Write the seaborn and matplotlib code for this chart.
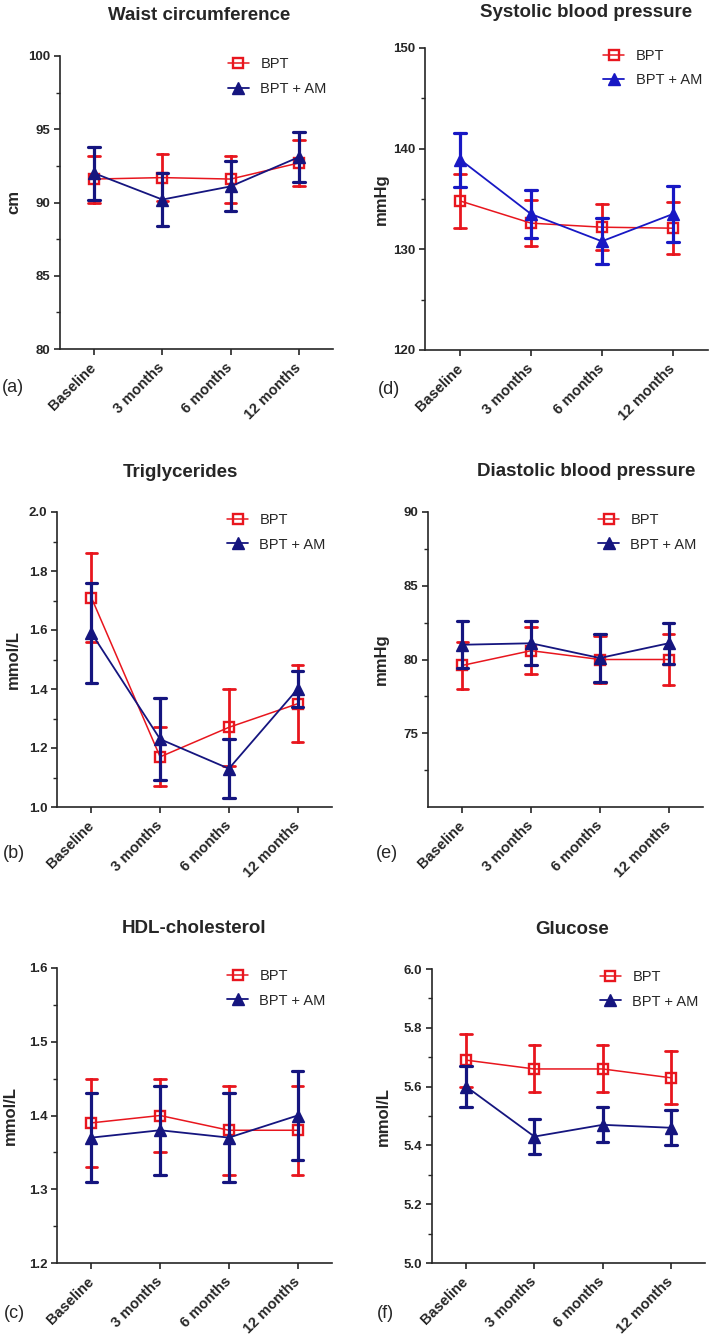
import pandas as pd
import matplotlib
matplotlib.use("Agg")
import matplotlib.pyplot as plt
import seaborn as sns
from matplotlib.lines import Line2D
from matplotlib.ticker import FormatStrFormatter

# time points and groups
timepoints = ["Baseline", "3 months", "6 months", "12 months"]
groups = ["BPT", "BPT + AM"]

# (a) waist circumference, cm (mean and error half-width)
waist_bpt = [91.6, 91.7, 91.6, 92.7]
waist_bpt_err = [1.6, 1.6, 1.6, 1.6]
waist_am = [92.0, 90.2, 91.1, 93.1]
waist_am_err = [1.8, 1.8, 1.7, 1.7]

# (b) triglycerides, mmol/L
tg_bpt = [1.71, 1.17, 1.27, 1.35]
tg_bpt_err = [0.15, 0.10, 0.13, 0.13]
tg_am = [1.59, 1.23, 1.13, 1.40]
tg_am_err = [0.17, 0.14, 0.10, 0.06]

# (c) HDL-cholesterol, mmol/L
hdl_bpt = [1.39, 1.40, 1.38, 1.38]
hdl_bpt_err = [0.06, 0.05, 0.06, 0.06]
hdl_am = [1.37, 1.38, 1.37, 1.40]
hdl_am_err = [0.06, 0.06, 0.06, 0.06]

# (d) systolic blood pressure, mmHg
sbp_bpt = [134.8, 132.6, 132.2, 132.1]
sbp_bpt_err = [2.7, 2.3, 2.3, 2.6]
sbp_am = [138.9, 133.5, 130.8, 133.5]
sbp_am_err = [2.7, 2.35, 2.3, 2.75]

# (e) diastolic blood pressure, mmHg
dbp_bpt = [79.6, 80.6, 80.0, 80.0]
dbp_bpt_err = [1.6, 1.6, 1.6, 1.7]
dbp_am = [81.0, 81.1, 80.1, 81.1]
dbp_am_err = [1.6, 1.5, 1.6, 1.4]

# (f) glucose, mmol/L
glu_bpt = [5.69, 5.66, 5.66, 5.63]
glu_bpt_err = [0.09, 0.08, 0.08, 0.09]
glu_am = [5.60, 5.43, 5.47, 5.46]
glu_am_err = [0.07, 0.06, 0.06, 0.06]

RED = "#E8161E"
NAVY = "#15157F"
BLUE = "#1818C4"

sns.set_style("ticks")
plt.rcParams["font.family"] = ["Liberation Sans", "DejaVu Sans"]
plt.rcParams["font.weight"] = "bold"
plt.rcParams["axes.linewidth"] = 1.2
plt.rcParams["xtick.labelsize"] = 10.5
plt.rcParams["ytick.labelsize"] = 9.5

W, H = 709, 1336
fig = plt.figure(figsize=(W / 100, H / 100), dpi=100)

# title, ylabel, letter, series, ylim, ticks, minor ticks, fmt,
# axes box in px (left, top, right, bottom), blue colour, title x, title pad,
# ylabel x, letter pos
panels = [
    ("Waist circumference", "cm", "(a)",
     (waist_bpt, waist_bpt_err, waist_am, waist_am_err),
     (80, 100), [80, 85, 90, 95, 100], [82.5, 87.5, 92.5, 97.5], "%d",
     (60, 56, 333, 349), NAVY, 0.51, 26, -0.143, (13, 388)),
    ("Triglycerides", "mmol/L", "(b)",
     (tg_bpt, tg_bpt_err, tg_am, tg_am_err),
     (1.0, 2.0), [1.0, 1.2, 1.4, 1.6, 1.8, 2.0], [1.1, 1.3, 1.5, 1.7, 1.9], "%.1f",
     (57, 512, 332, 807), NAVY, 0.45, 25, -0.131, (14, 853)),
    ("HDL-cholesterol", "mmol/L", "(c)",
     (hdl_bpt, hdl_bpt_err, hdl_am, hdl_am_err),
     (1.2, 1.6), [1.2, 1.3, 1.4, 1.5, 1.6], [1.25, 1.35, 1.45, 1.55], "%.1f",
     (57, 968, 332, 1263), NAVY, 0.50, 25, -0.142, (14, 1313)),
    ("Systolic blood pressure", "mmHg", "(d)",
     (sbp_bpt, sbp_bpt_err, sbp_am, sbp_am_err),
     (120, 150), [120, 130, 140, 150], [125, 135, 145], "%d",
     (425, 48, 708, 350), BLUE, 0.57, 22, -0.127, (389, 390)),
    ("Diastolic blood pressure", "mmHg", "(e)",
     (dbp_bpt, dbp_bpt_err, dbp_am, dbp_am_err),
     (70, 90), [75, 80, 85, 90], [72.5, 77.5, 82.5, 87.5], "%d",
     (428, 512, 703, 807), NAVY, 0.575, 26, -0.142, (387, 853)),
    ("Glucose", "mmol/L", "(f)",
     (glu_bpt, glu_bpt_err, glu_am, glu_am_err),
     (5.0, 6.0), [5.0, 5.2, 5.4, 5.6, 5.8, 6.0], [5.1, 5.3, 5.5, 5.7, 5.9], "%.1f",
     (432, 969, 705, 1263), NAVY, 0.515, 25, -0.150, (385, 1313)),
]


def long_form(means, errs):
    # three rows per time point: lower end, mean, upper end
    rows = []
    for t, m, e in zip(timepoints, means, errs):
        for v in (m - e, m, m + e):
            rows.append({"time": t, "value": v})
    return pd.DataFrame(rows)


for (title, ylabel, letter, series, ylim, ticks, minor, fmt,
     box, blue, tx, tpad, lx, lpos) in panels:
    l, t, r, b = box
    ax = fig.add_axes([l / W, 1 - b / H, (r - l) / W, (b - t) / H])
    bpt, bpt_err, am, am_err = series

    sns.pointplot(data=long_form(bpt, bpt_err), x="time", y="value",
                  order=timepoints, estimator="median", errorbar=("pi", 100),
                  color=RED, markers="s", capsize=0.17,
                  err_kws={"linewidth": 2.0}, linewidth=1.1,
                  markersize=7.5, markerfacecolor="none", markeredgewidth=1.7,
                  ax=ax)
    sns.pointplot(data=long_form(am, am_err), x="time", y="value",
                  order=timepoints, estimator="median", errorbar=("pi", 100),
                  color=blue, markers="^", capsize=0.17,
                  err_kws={"linewidth": 2.3}, linewidth=1.3,
                  markersize=8.5, markeredgewidth=1.0, ax=ax)

    ax.set_ylim(*ylim)
    ax.set_yticks(ticks)
    ax.set_yticks(minor, minor=True)
    ax.yaxis.set_major_formatter(FormatStrFormatter(fmt))
    ax.set_xlim(-0.5, 3.5)
    ax.set_xticks(range(len(timepoints)))
    ax.set_xticklabels(timepoints, rotation=45, ha="right", va="center",
                       rotation_mode="anchor")
    ax.tick_params(axis="both", which="major", direction="out", length=4,
                   width=1.2, pad=3)
    ax.tick_params(axis="y", which="minor", direction="out", length=3, width=1.0)
    ax.tick_params(axis="x", which="major", pad=8)
    sns.despine(ax=ax)

    ax.set_xlabel("")
    ax.set_ylabel(ylabel, fontsize=12, fontweight="bold")
    ax.yaxis.set_label_coords(lx, 0.5)
    ax.set_title(title, fontsize=13.5, fontweight="bold", pad=tpad, x=tx)

    handles = [
        Line2D([], [], color=RED, marker="s", markersize=7.5,
               markerfacecolor="none", markeredgewidth=1.7, linewidth=1.1),
        Line2D([], [], color=blue, marker="^", markersize=8.5, linewidth=1.3),
    ]
    ax.legend(handles, groups, loc="upper right", bbox_to_anchor=(1.025, 1.04),
              frameon=False, prop={"size": 10.5, "weight": "normal"},
              handlelength=1.4, handletextpad=0.8, labelspacing=0.7)

    fig.text(lpos[0] / W, 1 - lpos[1] / H, letter, fontsize=13,
             fontweight="normal", ha="center", va="center")

fig.savefig("out.png", dpi=100)
